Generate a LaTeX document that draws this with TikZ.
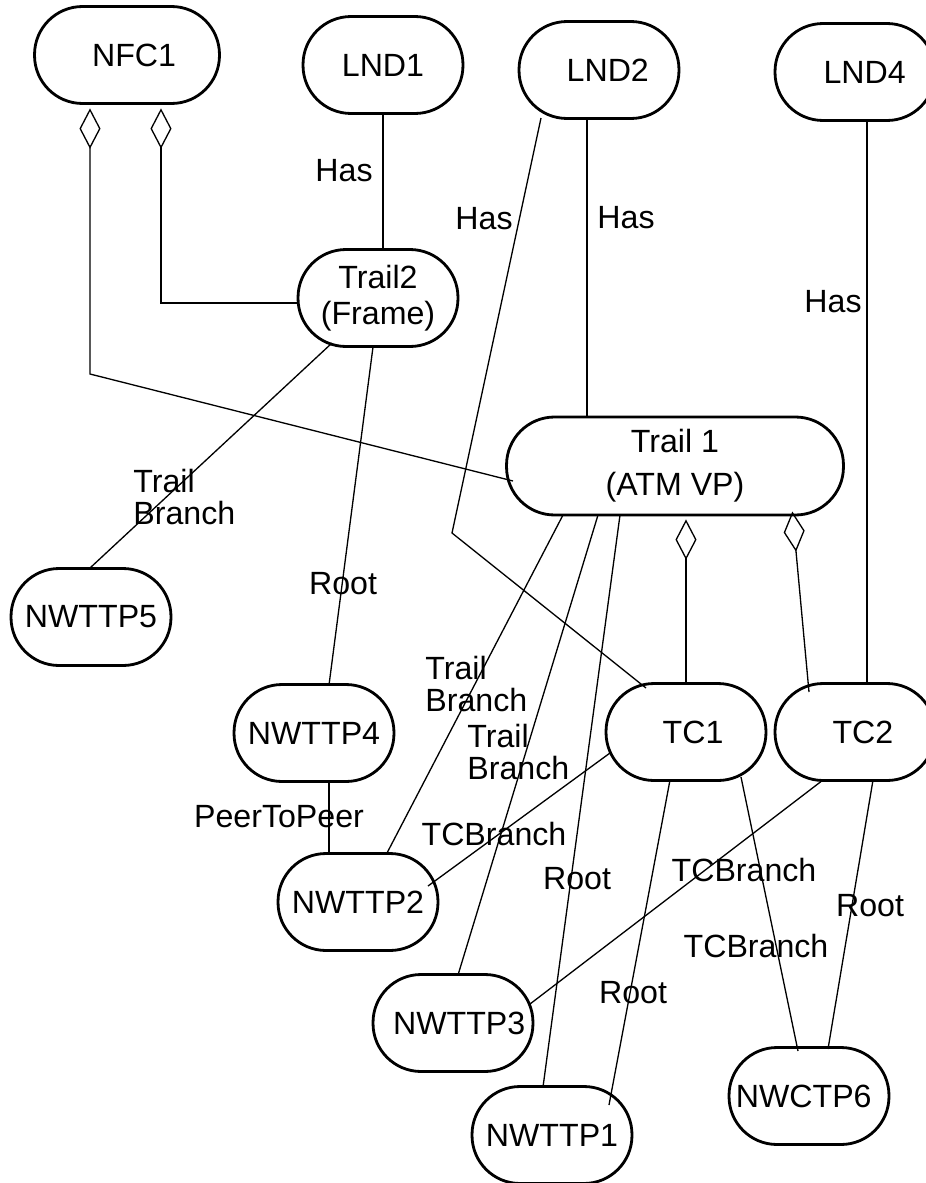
\documentclass[tikz,border=0pt]{standalone}
\usepackage{fontspec}
\setmainfont{Liberation Sans}
\usetikzlibrary{arrows.meta,calc}

\begin{document}
\begin{tikzpicture}[x=0.02cm, y=-0.02cm,
    obj/.style={draw, line width=1.6pt, rounded corners=0.96cm,
        minimum width=3.2cm, minimum height=1.94cm, inner sep=0pt,
        align=center, font=\fontsize{18.3}{20.5}\selectfont},
    rel/.style={line width=0.75pt},
    agg/.style={rel, {Diamond[open, length=23pt, width=12pt, sep=2pt]}-},
    lbl/.style={inner sep=0pt, align=left, font=\fontsize{18.3}{17.8}\selectfont}]

    \clip (0,0) rectangle (926,1183);

    % --- TOP ROW ---
    \node[obj, minimum width=3.7cm] (NFC1) at (127,55) {\hspace*{8pt}NFC1};
    \node[obj] (LND1) at (383,65) {LND1};
    \node[obj] (LND2) at (599,70) {\hspace*{10pt}LND2};
    \node[obj] (LND4) at (855,72) {\hspace*{11pt}LND4};

    % --- TRAILS ---
    \node[obj] (Trail2) at (378,298) {Trail2\\(Frame)};
    \node[obj, minimum width=6.74cm, minimum height=1.96cm] (Trail1) at (675,466) {Trail 1\\[4pt](ATM VP)};

    % --- TERMINATION POINTS ---
    \node[obj] (NWTTP5) at (91,617) {NWTTP5};
    \node[obj] (NWTTP4) at (314,733) {NWTTP4};
    \node[obj] (TC1) at (686,732) {\hspace*{8pt}TC1};
    \node[obj] (TC2) at (855,732) {\hspace*{9pt}TC2};
    \node[obj] (NWTTP2) at (358,902) {NWTTP2};
    \node[obj] (NWTTP3) at (453,1023) {\hspace*{7pt}NWTTP3};
    \node[obj] (NWCTP6) at (809,1096) {NWCTP6\hspace*{6pt}};
    \node[obj] (NWTTP1) at (552,1135) {NWTTP1};

    % --- AGGREGATIONS ---
    \coordinate (NFC1bend) at (90,374);
    \draw[agg] ($(NFC1.south)+(-37,0)$) -- (NFC1bend) -- ($(Trail1.center)+(-162,15)$);
    \draw[agg] ($(NFC1.south)+(34,0)$) |- ($(Trail2.west)+(0,5)$);
    \draw[agg, {Diamond[open, length=23pt, width=12pt, sep=4pt]}-] ($(Trail1.south -| TC1.north)+(0,-4)$) -- (TC1.north);
    \draw[agg] ($(Trail1.center)+(117,42)$) -- ($(TC2.center)+(-46,-40)$);

    % --- HAS ---
    \draw[rel] (LND1.south) -- (LND1.south |- Trail2.north);
    \coordinate (LND2bend) at (452,533);
    \draw[rel] ($(LND2.center)+(-58,48)$) -- (LND2bend) -- ($(TC1.center)+(-40,-44)$);
    \draw[rel] ($(LND2.center)+(-12,49)$) -- ($(Trail1.center)+(-88,-49)$);
    \draw[rel] ($(LND4.center)+(12,49)$) -- ($(TC2.center)+(12,-48)$);

    \node[lbl] (hasA) at (344,171) {Has};
    \node[lbl] (hasB) at (484,219) {Has};
    \node[lbl] (hasC) at (626,218) {Has};
    \node[lbl] (hasD) at (833,302) {Has};

    % --- BRANCHES AND ROOTS ---
    \draw[rel] ($(Trail2.center)+(-46,45)$) -- ($(NWTTP5.center)+(-1,-49)$);
    \draw[rel] ($(Trail2.center)+(-5,49)$) -- ($(NWTTP4.center)+(15,-48)$);
    \draw[rel] ($(Trail1.center)+(-112,49)$) -- ($(NWTTP2.center)+(29,-49)$);
    \draw[rel] ($(Trail1.center)+(-77,49)$) -- ($(NWTTP3.center)+(5,-48)$);
    \draw[rel] ($(Trail1.center)+(-55,49)$) -- ($(NWTTP1.center)+(-9,-48)$);
    \draw[rel] ($(NWTTP4.center)+(15,48)$) -- ($(NWTTP2.center)+(-29,-49)$);
    \draw[rel] ($(TC1.center)+(-76,21)$) -- ($(NWTTP2.center)+(70,-16)$);
    \draw[rel] ($(TC1.center)+(-16,48)$) -- ($(NWTTP1.center)+(57,-30)$);
    \draw[rel] ($(TC1.center)+(55,45)$) -- ($(NWCTP6.center)+(-11,-45)$);
    \draw[rel] ($(TC2.center)+(-32,48)$) -- ($(NWTTP3.center)+(77,-19)$);
    \draw[rel] ($(TC2.center)+(18,48)$) -- ($(NWCTP6.center)+(19,-47)$);

    \node[lbl, anchor=west] (brA) at (133,497) {Trail\\Branch};
    \node[lbl] (rootA) at (343,584) {Root};
    \node[lbl, anchor=west] (brB) at (425,684) {Trail\\Branch};
    \node[lbl, anchor=west] (brC) at (467,752) {Trail\\Branch};
    \node[lbl] (peer) at (279,817) {PeerToPeer};
    \node[lbl] (tcbA) at (494,834) {TCBranch};
    \node[lbl] (rootB) at (577,879) {Root};
    \node[lbl] (tcbB) at (744,870) {TCBranch};
    \node[lbl] (rootC) at (870,906) {Root};
    \node[lbl] (tcbC) at (756,946) {TCBranch};
    \node[lbl] (rootD) at (633,993) {Root};
\end{tikzpicture}
\end{document}
